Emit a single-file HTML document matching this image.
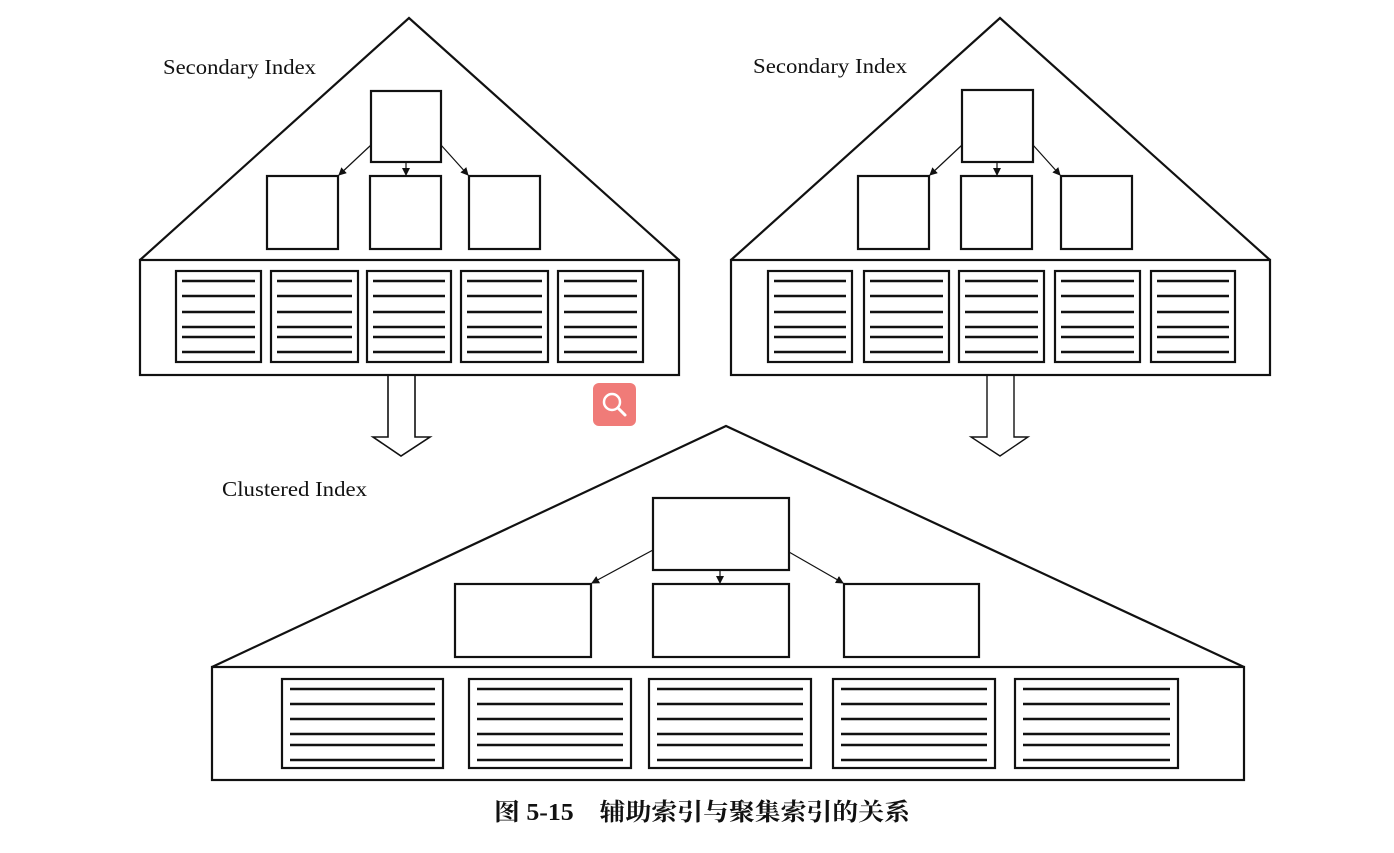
<!DOCTYPE html>
<html><head><meta charset="utf-8"><style>
html,body{margin:0;padding:0;background:#fff;}
svg{display:block}
text{font-family:"Liberation Serif","Noto Serif CJK SC",serif;fill:#111}
</style></head><body>
<svg width="1394" height="853" viewBox="0 0 1394 853" xmlns="http://www.w3.org/2000/svg">
<defs>
<marker id="ah" markerWidth="8" markerHeight="8" refX="7" refY="4" orient="auto" markerUnits="userSpaceOnUse">
<path d="M0,0 L8,4 L0,8 z" fill="#111"/></marker>
</defs>
<g stroke="#111" fill="none" stroke-width="2.2">
<path d="M140,260 L409,18 L679,260"/>
<rect x="140" y="260" width="539" height="115"/>
<rect x="371" y="91" width="70" height="71"/>
<rect x="267" y="176" width="71" height="73"/>
<rect x="370" y="176" width="71" height="73"/>
<rect x="469" y="176" width="71" height="73"/>
<path d="M731,260 L1000,18 L1270,260"/>
<rect x="731" y="260" width="539" height="115"/>
<rect x="962" y="90" width="71" height="72"/>
<rect x="858" y="176" width="71" height="73"/>
<rect x="961" y="176" width="71" height="73"/>
<rect x="1061" y="176" width="71" height="73"/>
<path d="M212,667 L726,426 L1244,667"/>
<rect x="212" y="667" width="1032" height="113"/>
<rect x="653" y="498" width="136" height="72"/>
<rect x="455" y="584" width="136" height="73"/>
<rect x="653" y="584" width="136" height="73"/>
<rect x="844" y="584" width="135" height="73"/>
<path d="M388,375 L388,437 L373,437 L401,456 L430,437 L415,437 L415,375" stroke-width="1.6"/>
<path d="M987,375 L987,437 L971,437 L1000,456 L1028,437 L1014,437 L1014,375" stroke-width="1.4"/>
</g>
<g stroke="#111" stroke-width="1.2">
<line x1="371" y1="145" x2="339" y2="175" marker-end="url(#ah)"/>
<line x1="406" y1="162" x2="406" y2="175" marker-end="url(#ah)"/>
<line x1="441" y1="145" x2="468" y2="175" marker-end="url(#ah)"/>
<line x1="962" y1="145" x2="930" y2="175" marker-end="url(#ah)"/>
<line x1="997" y1="162" x2="997" y2="175" marker-end="url(#ah)"/>
<line x1="1033" y1="145" x2="1060" y2="175" marker-end="url(#ah)"/>
<line x1="653" y1="550" x2="592" y2="583" marker-end="url(#ah)"/>
<line x1="720" y1="570" x2="720" y2="583" marker-end="url(#ah)"/>
<line x1="789" y1="552" x2="843" y2="583" marker-end="url(#ah)"/>
</g>
<g stroke="#111" stroke-width="2.2" fill="none">
<rect x="176" y="271" width="85" height="91"/><rect x="271" y="271" width="87" height="91"/><rect x="367" y="271" width="84" height="91"/><rect x="461" y="271" width="87" height="91"/><rect x="558" y="271" width="85" height="91"/>
<rect x="768" y="271" width="84" height="91"/><rect x="864" y="271" width="85" height="91"/><rect x="959" y="271" width="85" height="91"/><rect x="1055" y="271" width="85" height="91"/><rect x="1151" y="271" width="84" height="91"/>
<rect x="282" y="679" width="161" height="89"/><rect x="469" y="679" width="162" height="89"/><rect x="649" y="679" width="162" height="89"/><rect x="833" y="679" width="162" height="89"/><rect x="1015" y="679" width="163" height="89"/>
</g>
<g stroke="#111" stroke-width="2.4">
<path d="
M182,281h73M182,296h73M182,312h73M182,327h73M182,337h73M182,352h73
M277,281h75M277,296h75M277,312h75M277,327h75M277,337h75M277,352h75
M373,281h72M373,296h72M373,312h72M373,327h72M373,337h72M373,352h72
M467,281h75M467,296h75M467,312h75M467,327h75M467,337h75M467,352h75
M564,281h73M564,296h73M564,312h73M564,327h73M564,337h73M564,352h73
M774,281h72M774,296h72M774,312h72M774,327h72M774,337h72M774,352h72
M870,281h73M870,296h73M870,312h73M870,327h73M870,337h73M870,352h73
M965,281h73M965,296h73M965,312h73M965,327h73M965,337h73M965,352h73
M1061,281h73M1061,296h73M1061,312h73M1061,327h73M1061,337h73M1061,352h73
M1157,281h72M1157,296h72M1157,312h72M1157,327h72M1157,337h72M1157,352h72
M290,689h145M290,704h145M290,719h145M290,734h145M290,745h145M290,760h145
M477,689h146M477,704h146M477,719h146M477,734h146M477,745h146M477,760h146
M657,689h146M657,704h146M657,719h146M657,734h146M657,745h146M657,760h146
M841,689h146M841,704h146M841,719h146M841,734h146M841,745h146M841,760h146
M1023,689h147M1023,704h147M1023,719h147M1023,734h147M1023,745h147M1023,760h147"/>
</g>
<text x="163" y="74" font-size="21" textLength="153" lengthAdjust="spacingAndGlyphs">Secondary Index</text>
<text x="753" y="73" font-size="21" textLength="154" lengthAdjust="spacingAndGlyphs">Secondary Index</text>
<text x="222" y="496" font-size="21" textLength="145" lengthAdjust="spacingAndGlyphs">Clustered Index</text>
<text x="494" y="820" font-size="24" font-weight="bold" textLength="416" lengthAdjust="spacingAndGlyphs">图 5-15　辅助索引与聚集索引的关系</text>
<rect x="593" y="383" width="43" height="43" rx="6" fill="#f07b78"/>
<circle cx="612" cy="402" r="8" stroke="#fff" stroke-width="2.5" fill="none"/>
<line x1="618" y1="408" x2="625" y2="415" stroke="#fff" stroke-width="3" stroke-linecap="round"/>
</svg>
</body></html>
